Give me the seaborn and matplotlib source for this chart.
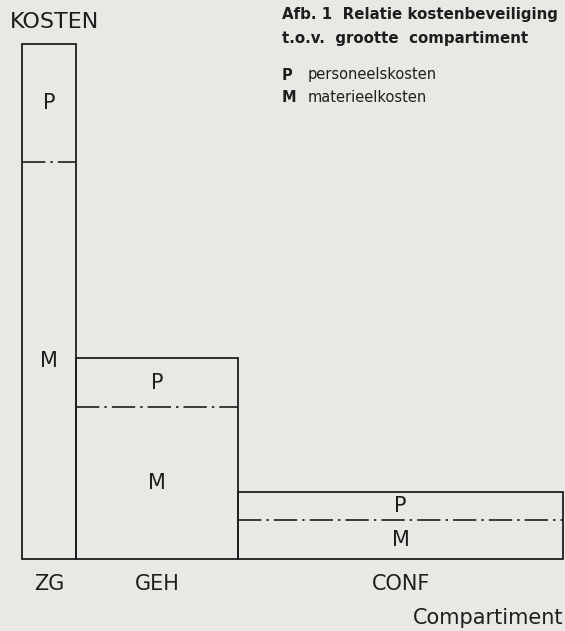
import numpy as np
import matplotlib.pyplot as plt
import seaborn as sns

# compartment categories, relative size (bar width) and costs
compartments = ["ZG", "GEH", "CONF"]
sizes = [1, 3, 6]
materieel = [77, 29.5, 7.5]      # M
personeel = [23, 9.5, 5.5]       # P

sns.set_theme(style="white", rc={"figure.facecolor": "#e8e8e4",
                                 "axes.facecolor": "#e8e8e4"})
plt.rcParams["font.family"] = ["DejaVu Sans"]

ink = "#1e1e1e"
fig = plt.figure(figsize=(5.65, 6.31), dpi=100)
ax = fig.add_axes([22 / 565, 72 / 631, 541 / 565, 515 / 631])

m = np.array(materieel)
p = np.array(personeel)
w = np.array(sizes)
left = np.concatenate([[0], np.cumsum(w)[:-1]])
mid = left + w / 2

ax.bar(left, m + p, width=w, align="edge", fill=False,
       edgecolor=ink, linewidth=1.3, clip_on=False)
ax.hlines(m, left, left + w, colors=ink, linewidth=1.2,
          linestyles=[(0, (14, 3, 1.5, 3))])

for x, mm, pp in zip(mid, m, p):
    ax.text(x, mm / 2, "M", ha="center", va="center", fontsize=15, color=ink)
    ax.text(x, mm + pp / 2, "P", ha="center", va="center", fontsize=15, color=ink)

ax.set_xlim(0, w.sum())
ax.set_ylim(0, 100)
ax.set_xticks(mid, compartments)
ax.set_yticks([])
ax.tick_params(axis="x", length=0, pad=11, labelsize=15, colors=ink)
sns.despine(ax=ax, left=True, bottom=True)

fig.text(10 / 565, 1 - 22 / 631, "KOSTEN", fontsize=16, color=ink, va="center")
fig.text(563 / 565, 1 - 618 / 631, "Compartiment", fontsize=15, color=ink,
         ha="right", va="center")

fig.text(282 / 565, 1 - 15 / 631, "Afb. 1  Relatie kostenbeveiliging",
         fontsize=10.8, fontweight="bold", color=ink, va="center")
fig.text(282 / 565, 1 - 39 / 631, "t.o.v.  grootte  compartiment",
         fontsize=10.8, fontweight="bold", color=ink, va="center")
fig.text(282 / 565, 1 - 75 / 631, "P", fontsize=10.5, fontweight="bold",
         color=ink, va="center")
fig.text(308 / 565, 1 - 75 / 631, "personeelskosten", fontsize=10.5,
         color=ink, va="center")
fig.text(282 / 565, 1 - 97 / 631, "M", fontsize=10.5, fontweight="bold",
         color=ink, va="center")
fig.text(308 / 565, 1 - 97 / 631, "materieelkosten", fontsize=10.5,
         color=ink, va="center")

plt.savefig("out.png", dpi=100)
